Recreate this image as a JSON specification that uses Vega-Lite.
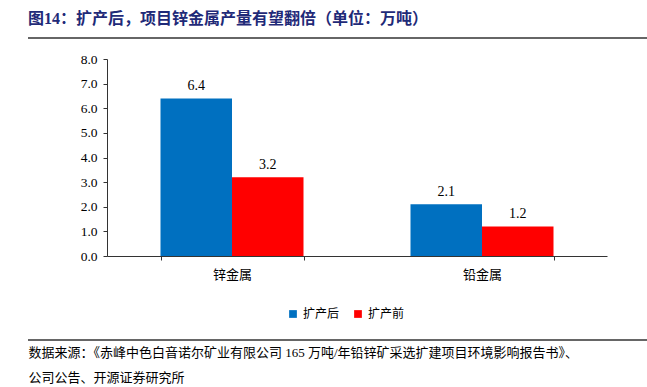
{
  "$schema": "https://vega.github.io/schema/vega-lite/v6.json",
  "autosize": {"type": "none"},
  "width": 500,
  "height": 197,
  "padding": {"left": 107, "top": 59, "right": 40, "bottom": 131},
  "background": "white",
  "config": {
    "view": {"stroke": null},
    "font": "Liberation Serif, Noto Sans CJK SC",
    "axis": {"labelFont": "Liberation Serif, Noto Sans CJK SC", "titleFont": "Liberation Serif, Noto Sans CJK SC"}
  },
  "title": {
    "text": "图14：扩产后，项目锌金属产量有望翻倍（单位：万吨）",
    "anchor": "start",
    "frame": "group",
    "dx": -79,
    "offset": 10,
    "fontSize": 16,
    "fontWeight": "bold",
    "color": "#1F2A78",
    "font": "Liberation Serif, Noto Sans CJK SC"
  },
  "data": {
    "values": [
      {"metal": "锌金属", "period": "扩产后", "value": 6.4},
      {"metal": "锌金属", "period": "扩产前", "value": 3.2},
      {"metal": "铅金属", "period": "扩产后", "value": 2.1},
      {"metal": "铅金属", "period": "扩产前", "value": 1.2}
    ]
  },
  "layer": [
    {
      "mark": {"type": "bar"},
      "encoding": {
        "x": {
          "field": "metal", "type": "nominal", "sort": ["锌金属", "铅金属"],
          "scale": {"paddingInner": 0.428, "paddingOuter": 0.214},
          "axis": {
            "labelAngle": 0, "labelFontSize": 13, "labelColor": "#000", "labelPadding": 8,
            "domainColor": "#333", "tickColor": "#333", "tickBand": "extent", "tickSize": 4,
            "title": ["数据来源：《赤峰中色白音诺尔矿业有限公司 165 万吨/年铅锌矿采选扩建项目环境影响报告书》、", "公司公告、开源证券研究所"],
            "titleAnchor": "start", "titleAlign": "left", "titleX": -79, "titleY": 90,
            "titleBaseline": "top", "titleLineHeight": 25, "titleFontSize": 13,
            "titleFontWeight": "normal", "titleColor": "#000"
          }
        },
        "xOffset": {"field": "period", "type": "nominal", "sort": ["扩产后", "扩产前"]},
        "y": {
          "field": "value", "type": "quantitative",
          "scale": {"domain": [0, 8]},
          "axis": {
            "title": null, "grid": false, "tickCount": 8, "format": ".1f",
            "labelFontSize": 13.5, "labelColor": "#000", "labelPadding": 6,
            "domainColor": "#333", "tickColor": "#333", "tickSize": 4
          }
        },
        "color": {
          "field": "period", "type": "nominal", "sort": ["扩产后", "扩产前"],
          "scale": {"domain": ["扩产后", "扩产前"], "range": ["#0070C0", "#FF0000"]},
          "legend": {
            "title": null, "orient": "none", "direction": "horizontal",
            "legendX": 180, "legendY": 249, "symbolType": "square", "symbolSize": 60,
            "labelFontSize": 12, "labelColor": "#000", "columnPadding": 12
          }
        }
      }
    },
    {
      "mark": {"type": "text", "dy": -12, "fontSize": 14, "color": "#000", "font": "Liberation Serif"},
      "encoding": {
        "x": {"field": "metal", "type": "nominal", "sort": ["锌金属", "铅金属"]},
        "xOffset": {"field": "period", "type": "nominal", "sort": ["扩产后", "扩产前"]},
        "y": {"field": "value", "type": "quantitative"},
        "text": {"field": "value", "type": "quantitative", "format": ".1f"}
      }
    },
    {
      "data": {"values": [{}]},
      "mark": {"type": "rule", "color": "#333", "strokeWidth": 1.5},
      "encoding": {"x": {"value": -79}, "x2": {"value": 540}, "y": {"value": -21}}
    },
    {
      "data": {"values": [{}]},
      "mark": {"type": "rule", "color": "#333", "strokeWidth": 1.5},
      "encoding": {"x": {"value": -79}, "x2": {"value": 540}, "y": {"value": 281}}
    }
  ]
}
